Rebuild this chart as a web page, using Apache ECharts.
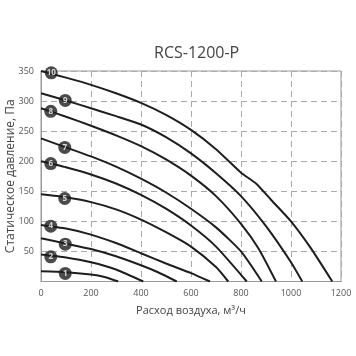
<!DOCTYPE html>
<html><head><meta charset="utf-8">
<script src="https://cdn.jsdelivr.net/npm/echarts@6/dist/echarts.min.js"></script>
<style>html,body{margin:0;padding:0;background:#fff}#c{width:356px;height:356px}</style>
</head><body><div id="c"></div>
<script>
var xTicks = [0, 200, 400, 600, 800, 1000, 1200];
var yTicks = [0, 50, 100, 150, 200, 250, 300, 350];
var curveNames = ['1','2','3','4','5','6','7','8','9','10'];
var c1 = [[0,17],[100,15.5],[200,11.5],[250,8],[309,0]];
var c2 = [[0,45],[100,40],[200,32],[300,20],[409,0]];
var c3 = [[0,72],[100,63],[200,54],[300,42],[400,27],[470,15],[543,0]];
var c4 = [[0,94],[100,88],[200,78],[300,64],[400,47],[500,30],[600,14],[676,0]];
var c5 = [[0,145],[100,140],[200,132],[300,120],[400,103],[500,82],[600,58],[700,24],[749,0]];
var c6 = [[0,200],[100,190],[200,178],[300,163],[400,144],[500,121],[600,93],[700,58],[823,0]];
var c7 = [[0,238],[100,223],[200,208],[300,191],[400,171],[500,148],[600,121],[700,90],[800,50],[883,0]];
var c8 = [[0,288],[100,274],[200,259],[300,243],[400,225],[500,203],[600,176],[700,142],[800,96],[870,55],[940,0]];
var c9 = [[0,313],[100,301],[200,288],[300,275],[400,261],[500,240],[600,213],[700,180],[800,142],[900,92],[1000,32],[1045,0]];
var c10 = [[0,350],[100,339],[200,327],[300,313],[400,297],[500,277],[600,252],[700,220],[800,181],[860,163],[920,136],[1000,100],[1080,55],[1165,0]];
var curves = [c1,c2,c3,c4,c5,c6,c7,c8,c9,c10];
var badges = [[97,13.5],[39,41],[97,62],[39,92],[95,138],[39,196],[95,223],[39,283],[97,301],[41,347]];

var FONT = '"Open Sans", "Noto Sans", sans-serif';
var series = curves.map(function(d, i){
  return {type:'line', name:curveNames[i], data:d, smooth:0.2, showSymbol:false,
    lineStyle:{color:'#1e1e1e', width:2}, z:2, silent:true};
});
series.push({type:'scatter', data:badges.map(function(b,i){return {value:b, name:curveNames[i]};}),
  symbolSize:13, itemStyle:{color:'#1e1e1e'}, z:5,
  label:{show:true, position:'inside', formatter:function(p){return p.name;}, color:'#fff',
    fontSize:8, fontWeight:'bold', fontFamily:FONT}});

var chart = echarts.init(document.getElementById('c'), null, {renderer:'canvas'});
chart.setOption({
  animation:false,
  title:{text:'RCS-1200-P', left:149, top:40,
    textStyle:{fontSize:16, fontWeight:'normal', color:'#444', fontFamily:FONT}},
  grid:{left:41, right:15, top:71, bottom:74.5, show:true, borderColor:'#999', borderWidth:1,
    containLabel:false, outerBoundsMode:'none'},
  xAxis:{type:'value', min:0, max:1200, interval:200,
    name:'Расход воздуха, м³/ч', nameLocation:'middle', nameGap:24, nameMoveOverlap:false,
    nameTextStyle:{fontSize:11, color:'#444', fontFamily:FONT},
    axisLine:{show:true, lineStyle:{color:'#999'}}, axisTick:{show:false},
    axisLabel:{color:'#555', fontSize:9, margin:7, fontFamily:FONT, formatter:function(v){return String(v);}},
    splitLine:{show:true, lineStyle:{color:'#aaa', type:[6,4], width:1}}},
  yAxis:{type:'value', min:0, max:350, interval:50,
    name:'Статическое давление, Па', nameLocation:'middle', nameGap:24, nameMoveOverlap:false,
    nameTextStyle:{fontSize:12, color:'#444', fontFamily:FONT},
    axisLine:{show:true, lineStyle:{color:'#999'}}, axisTick:{show:false},
    axisLabel:{color:'#555', fontSize:9, margin:7, showMinLabel:false, fontFamily:FONT, formatter:function(v){return String(v);}},
    splitLine:{show:true, lineStyle:{color:'#aaa', type:[6,4], width:1}}},
  series:series
});
</script></body></html>
